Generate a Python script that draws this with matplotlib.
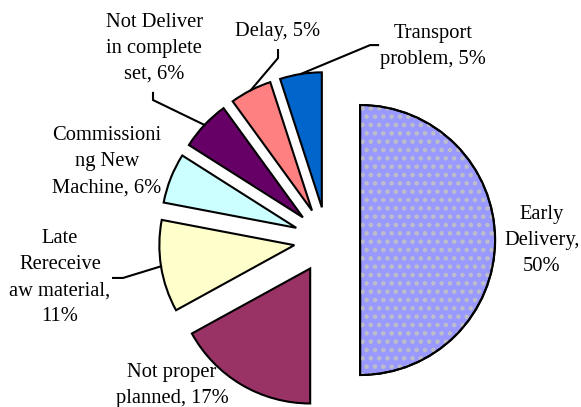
import numpy as np
from matplotlib import pyplot as plt
from matplotlib.patches import Wedge

plt.rcParams['font.family'] = ['Liberation Serif', 'DejaVu Serif']
plt.rcParams['hatch.linewidth'] = 2.0

labels = ['Early\nDelivery,\n50%',
          'Not proper\nplanned, 17%',
          'Late\nRereceive\naw material,\n11%',
          'Commissioni\nng New\nMachine, 6%',
          'Not Deliver\nin complete\nset, 6%',
          'Delay, 5%',
          'Transport\nproblem, 5%']
values = [50, 17, 11, 6, 6, 5, 5]
colors = ['#9999FF', '#993366', '#FFFFCC', '#CCFFFF', '#660066', '#FF8080', '#0066CC']

# label centres in data units (pie radius = 1)
label_pos = [(1.593, 0.0), (-1.148, -1.081), (-1.978, -0.281), (-1.630, 0.578),
             (-1.281, 1.422), (-0.363, 1.541), (0.785, 1.430)]
# leader lines: slice index -> two points near the label
leaders = {
    2: [(-1.585, -0.281), (-1.511, -0.281)],
    4: [(-1.289, 1.090), (-1.289, 1.037)],
    5: [(-0.363, 1.407), (-0.363, 1.348)],
    6: [(0.378, 1.444), (0.319, 1.444)],
}

fig = plt.figure(figsize=(5.81, 4.07), dpi=100)
ax = fig.add_axes([0, 0, 1, 1])

wedges, _ = ax.pie(values, colors=colors, startangle=90, counterclock=False,
                   explode=[0.245] * len(values),
                   wedgeprops=dict(edgecolor='black', linewidth=1.5))

# dotted texture on the big slice
w = wedges[0]
ax.add_patch(Wedge(w.center, w.r, w.theta1, w.theta2, facecolor='none',
                   edgecolor='#BEBEC8', linewidth=0, hatch='..'))
ax.add_patch(Wedge(w.center, w.r, w.theta1, w.theta2, facecolor='none',
                   edgecolor='black', linewidth=1.5))

for i, (txt, (x, y)) in enumerate(zip(labels, label_pos)):
    ax.text(x, y, txt, ha='center', va='center', fontsize=14.8, linespacing=1.5)

for i, pts in leaders.items():
    w = wedges[i]
    mid = np.deg2rad((w.theta1 + w.theta2) / 2)
    end = (w.center[0] + w.r * np.cos(mid), w.center[1] + w.r * np.sin(mid))
    xs = [p[0] for p in pts] + [end[0]]
    ys = [p[1] for p in pts] + [end[1]]
    ax.plot(xs, ys, color='black', linewidth=1.5)

ax.set_xlim(-2.422, 1.881)
ax.set_ylim(-1.237, 1.778)
ax.axis('off')

plt.savefig('out.png', dpi=100)
